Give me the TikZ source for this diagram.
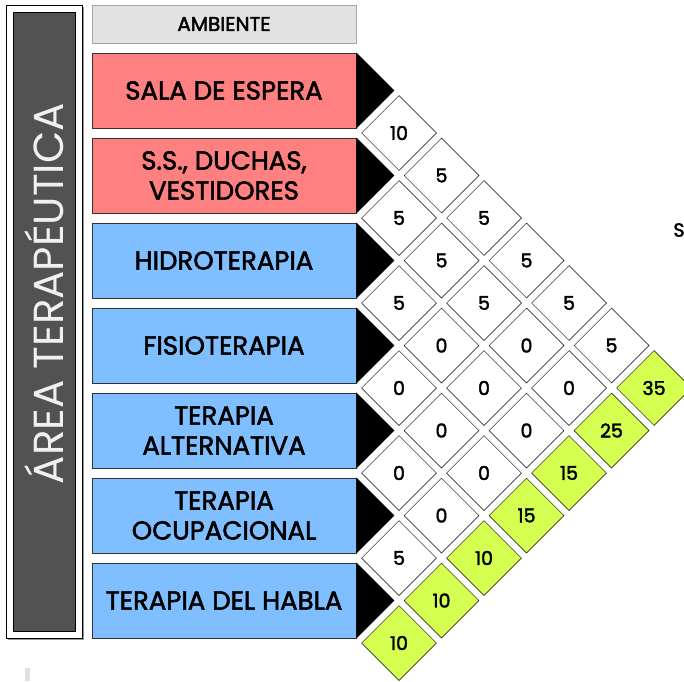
\documentclass[tikz,border=0pt]{standalone}
\usepackage{fontspec}
\setmainfont{Poppins}
\newfontfamily\amfont{Poppins}[FakeBold=2]
\usetikzlibrary{calc,positioning,shapes.geometric,shadows}
\definecolor{salarojo}{RGB}{255,128,128}
\definecolor{terazul}{RGB}{128,191,255}
\definecolor{sumaverde}{RGB}{212,255,80}
\definecolor{bandagris}{RGB}{82,82,82}
\definecolor{cabgris}{RGB}{226,226,226}
\tikzset{
  ambox/.style ={rectangle, draw=black!80, line width=0.8pt, minimum width=264pt,
                 minimum height=75pt, inner sep=2pt, align=center,
                 font=\amfont\fontsize{26}{30}\selectfont,
                 drop shadow={shadow xshift=1pt, shadow yshift=-1pt, fill=black, opacity=0.5}},
  amred/.style ={ambox, fill=salarojo},
  amblue/.style={ambox, fill=terazul},
  amhead/.style={rectangle, draw=black!35, fill=cabgris, line width=0.8pt,
                 minimum width=264pt, minimum height=38pt,
                 font=\amfont\fontsize{20}{22}\selectfont},
  cell/.style   ={diamond, aspect=1, draw=black, line width=0.5pt, fill=white,
                  minimum size=75pt, inner sep=0pt, font=\amfont\fontsize{19}{20}\selectfont},
  cellsum/.style={cell, fill=sumaverde},
  amtri/.style  ={fill=black},
}
\begin{document}
\begin{tikzpicture}[x=1pt, y=-1pt]
  \useasboundingbox (0,0) rectangle (684,681);
  % banda lateral
  \fill[black!40] (8,7) rectangle (84,640);
  \draw[black, fill=white, line width=0.8pt] (6,5) rectangle (82,638);
  \node[draw=black, fill=bandagris, line width=0.8pt, minimum width=62pt,
        minimum height=619pt, inner sep=0pt] (banda) at (44,321.5) {};
  \node[rotate=90, text=white!94!black, font=\fontsize{42}{46}\selectfont]
       (area) at ($(banda.center)+(0,-28)$) {ÁREA TERAPÉUTICA};
  % ambientes
  \node[amhead] (amb) at (224,24) {AMBIENTE};
  \node[amred] (r1) at (224,90.5) {SALA DE ESPERA};
  \node[amred,  below=9.2pt of r1] (r2) {S.S., DUCHAS,\\VESTIDORES};
  \node[amblue, below=9.2pt of r2] (r3) {HIDROTERAPIA};
  \node[amblue, below=9.2pt of r3] (r4) {FISIOTERAPIA};
  \node[amblue, below=9.2pt of r4] (r5) {TERAPIA\\ALTERNATIVA};
  \node[amblue, below=9.2pt of r5] (r6) {TERAPIA\\OCUPACIONAL};
  \node[amblue, below=9.2pt of r6] (r7) {TERAPIA DEL HABLA};
  \foreach \r in {r1,r2,r3,r4,r5,r6,r7}
    \fill[amtri] (\r.north east) -- ($(\r.east)+(38,0)$) -- (\r.south east) -- cycle;
  % matriz de relaciones
  \foreach \i/\j/\v in {1/2/10, 1/3/5, 1/4/5, 1/5/5, 1/6/5, 1/7/5,
                        2/3/5, 2/4/5, 2/5/5, 2/6/0, 2/7/0,
                        3/4/5, 3/5/0, 3/6/0, 3/7/0,
                        4/5/0, 4/6/0, 4/7/0,
                        5/6/0, 5/7/0,
                        6/7/5}
    \node[cell] (c\i\j) at ({356.5+42.5*(\j-\i)}, {90.5+42.5*(\i+\j-2)}) {\v};
  % totales
  \foreach \i/\v in {1/35, 2/25, 3/15, 4/15, 5/10, 6/10, 7/10}
    \node[cellsum] (s\i) at ({356.5+42.5*(8-\i)}, {90.5+42.5*(\i+6)}) {\v};
  \node[font=\amfont\fontsize{19}{20}\selectfont] (extra) at (679,230) {S};
  \fill[black!12] (25,668) rectangle (30,681);
\end{tikzpicture}
\end{document}
